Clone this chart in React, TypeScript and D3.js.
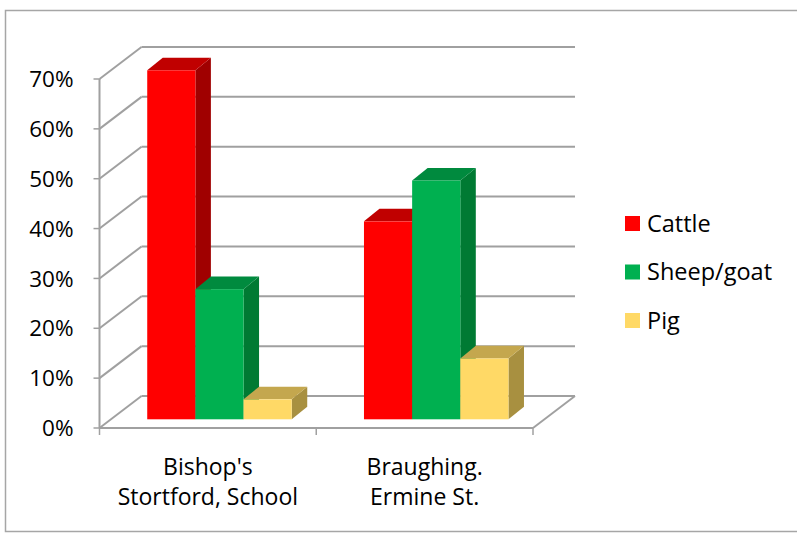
import React from "react";
import * as d3 from "d3";

const categories = ["Bishop's\nStortford, School", "Braughing.\nErmine St."];
const seriesNames = ["Cattle", "Sheep/goat", "Pig"];
const cattle = [0.70, 0.397];
const sheepGoat = [0.261, 0.479];
const pig = [0.04, 0.122];
const yTicks = [0, 0.1, 0.2, 0.3, 0.4, 0.5, 0.6, 0.7];

const seriesValues = [cattle, sheepGoat, pig];
const frontColors = ["#FF0000", "#00B050", "#FFD966"];
const topColors = ["#C00000", "#008A3E", "#C4A74E"];
const sideColors = ["#A00000", "#007A33", "#A89040"];

const W = 797;
const H = 534;
const left = 99.5;
const right = 533;
const base = 428;
const top70 = 79;
const DX = 42; // full depth
const DY = -32;
const barFront = { dx: 11.6, dy: -8.7 };
const barDepth = { dx: 15.5, dy: -12.6 };
const gridColor = "#A0A0A0";
const font = "'Open Sans', sans-serif";

export default function App() {
  const x0 = d3.scaleBand<number>().domain(d3.range(categories.length)).range([left, right]);
  const x1 = d3
    .scaleBand<number>()
    .domain(d3.range(seriesNames.length))
    .range([0, x0.bandwidth()])
    .paddingInner(0)
    .paddingOuter(0.75);
  const y = d3.scaleLinear().domain([0, 0.7]).range([base, top70]);

  const bars: React.ReactNode[] = [];
  categories.forEach((_, ci) => {
    seriesValues.forEach((vals, si) => {
      const v = vals[ci];
      const xl = (x0(ci) as number) + (x1(si) as number) + barFront.dx;
      const xr = xl + x1.bandwidth();
      const yb = base + barFront.dy;
      const yt = y(v) + barFront.dy;
      const { dx, dy } = barDepth;
      const side = `M${xr},${yt} L${xr + dx},${yt + dy} L${xr + dx},${yb + dy} L${xr},${yb} Z`;
      const topF = `M${xl},${yt} L${xl + dx},${yt + dy} L${xr + dx},${yt + dy} L${xr},${yt} Z`;
      bars.push(
        <g key={`${ci}-${si}`}>
          <path d={side} fill={sideColors[si]} />
          <path d={topF} fill={topColors[si]} />
          <rect x={xl} y={yt} width={xr - xl} height={yb - yt} fill={frontColors[si]} />
        </g>
      );
    });
  });

  return (
    <svg
      width={W}
      height={H}
      style={{ position: "absolute", left: 0, top: 0, background: "#fff" }}
      fontFamily={font}
    >
      <rect x={5.5} y={10.5} width={W + 10} height={521} fill="#fff" stroke="#A6A6A6" strokeWidth={1.5} />
      {/* side wall diagonals + back wall gridlines */}
      {yTicks.map((t) => (
        <g key={t}>
          <line x1={left} y1={y(t)} x2={left + DX} y2={y(t) + DY} stroke={gridColor} strokeWidth={2} />
          <line x1={left + DX} y1={y(t) + DY} x2={right + DX} y2={y(t) + DY} stroke={gridColor} strokeWidth={2} />
          <line x1={left - 6} y1={y(t)} x2={left} y2={y(t)} stroke={gridColor} strokeWidth={1.5} />
          <text x={73.5} y={y(t)} dy="0.36em" textAnchor="end" fontSize={22.5} fill="#000">
            {d3.format(".0%")(t)}
          </text>
        </g>
      ))}
      {/* floor */}
      <line x1={left} y1={base} x2={right} y2={base} stroke={gridColor} strokeWidth={2} />
      <line x1={right} y1={base} x2={right + DX} y2={base + DY} stroke={gridColor} strokeWidth={2} />
      <line x1={left} y1={y(0.7)} x2={left} y2={base} stroke={gridColor} strokeWidth={2} />
      {[0, 1, 2].map((i) => {
        const xx = i < 2 ? (x0(i) as number) : right;
        return <line key={i} x1={xx} y1={base} x2={xx} y2={base + 7} stroke={gridColor} strokeWidth={1.5} />;
      })}
      {bars}
      {/* category labels */}
      {categories.map((c, ci) => {
        const cx = (x0(ci) as number) + x0.bandwidth() / 2;
        return (
          <text key={ci} x={cx} textAnchor="middle" fontSize={23} fill="#000">
            {c.split("\n").map((line, li) => (
              <tspan key={li} x={cx} y={475 + li * 30}>
                {line}
              </tspan>
            ))}
          </text>
        );
      })}
      {/* legend */}
      {seriesNames.map((s, si) => (
        <g key={s} transform={`translate(625, ${216 + si * 48.5})`}>
          <rect x={0} y={0} width={15} height={15} fill={frontColors[si]} />
          <text x={22} y={7.5} dy="0.36em" fontSize={23.5} fill="#000">
            {s}
          </text>
        </g>
      ))}
    </svg>
  );
}
